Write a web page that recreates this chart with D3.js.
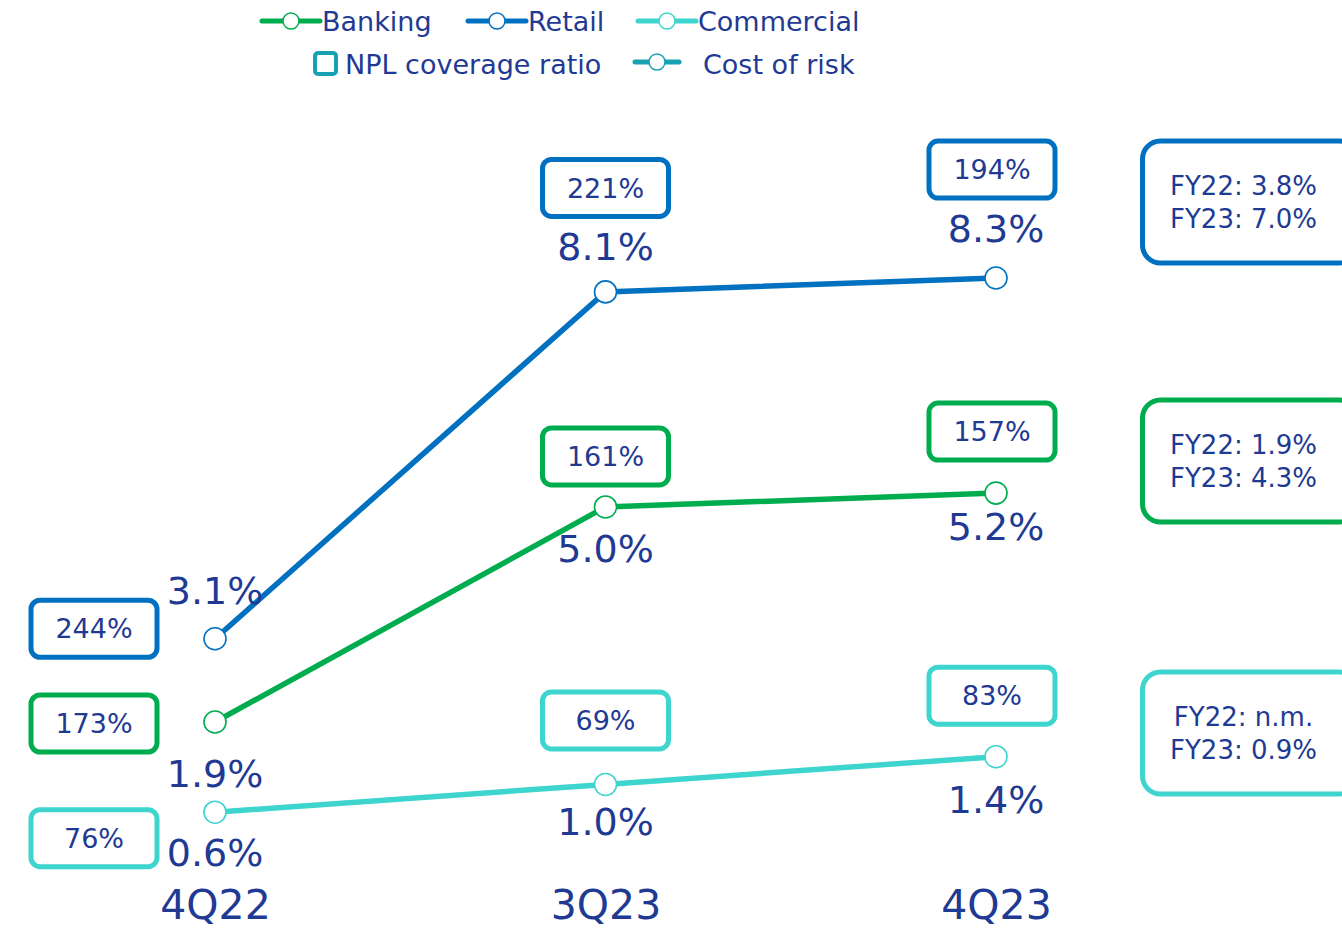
<!DOCTYPE html>
<html>
<head>
<meta charset="utf-8">
<script src="https://cdn.jsdelivr.net/npm/d3@7"></script>
<style>
  body { margin: 0; background: #fff; }
  svg { display: block; }
  text { font-family: "DejaVu Sans", sans-serif; fill: #1f3a93; }
</style>
</head>
<body>
<svg id="chart" width="1342" height="930"></svg>
<script>
// Quarters on the horizontal axis
const periods = ["4Q22", "3Q23", "4Q23"];

// Cost of risk (%) by segment
const bankingCoR = [1.9, 5.0, 5.2];
const retailCoR = [3.1, 8.1, 8.3];
const commercialCoR = [0.6, 1.0, 1.4];

// NPL coverage ratio (%) by segment
const bankingNPL = [173, 161, 157];
const retailNPL = [244, 221, 194];
const commercialNPL = [76, 69, 83];

// Full-year cost of risk summaries
const bankingFY = ["FY22: 1.9%", "FY23: 4.3%"];
const retailFY = ["FY22: 3.8%", "FY23: 7.0%"];
const commercialFY = ["FY22: n.m.", "FY23: 0.9%"];

const colors = {
  banking: "#00ad4e",
  retail: "#0070c0",
  commercial: "#3fd5cf",
  legendTeal: "#17a1b3"
};

// Annotation placement relative to each point (box centre / label baseline)
const layout = {
  retail:     { boxDx: [-121, 0, -4], boxDy: [-10, -104, -108.5], labelDy: [-35, -32, -36], fyY: 202 },
  banking:    { boxDx: [-121, 0, -4], boxDy: [1.5, -50.5, -61.5], labelDy: [65, 55, 47],    fyY: 461 },
  commercial: { boxDx: [-121, 0, -4], boxDy: [26, -64, -61],      labelDy: [54, 51, 56],    fyY: 733 }
};

const series = [
  { key: "retail", name: "Retail", cor: retailCoR, npl: retailNPL, fy: retailFY },
  { key: "banking", name: "Banking", cor: bankingCoR, npl: bankingNPL, fy: bankingFY },
  { key: "commercial", name: "Commercial", cor: commercialCoR, npl: commercialNPL, fy: commercialFY }
];

const svg = d3.select("#chart");

const x = d3.scalePoint().domain(periods).range([215, 996]);
const y = d3.scaleLinear().domain([0, 10]).range([853.8, 160.1]);

// Category axis (labels only)
const xAxis = svg.append("g")
  .attr("transform", "translate(0,919)")
  .call(d3.axisBottom(x).tickSize(0).tickPadding(0));
xAxis.select(".domain").remove();
xAxis.selectAll("text")
  .attr("dy", 0)
  .attr("y", 0)
  .style("font-size", "41px")
  .style("fill", "#1f3a93")
  .style("font-family", "'DejaVu Sans', sans-serif");

const line = d3.line().x((d, i) => x(periods[i])).y(d => y(d));

// Lines, then markers
series.forEach(s => {
  svg.append("path")
    .datum(s.cor)
    .attr("d", line)
    .attr("fill", "none")
    .attr("stroke", colors[s.key])
    .attr("stroke-width", 5.5);
});

series.forEach(s => {
  svg.append("g").selectAll("circle")
    .data(s.cor)
    .join("circle")
    .attr("cx", (d, i) => x(periods[i]))
    .attr("cy", d => y(d))
    .attr("r", 11)
    .attr("fill", "#fff")
    .attr("stroke", colors[s.key])
    .attr("stroke-width", 1.6);
});

// Cost-of-risk value labels
series.forEach(s => {
  const L = layout[s.key];
  svg.append("g").selectAll("text")
    .data(s.cor)
    .join("text")
    .attr("x", (d, i) => x(periods[i]))
    .attr("y", (d, i) => y(d) + L.labelDy[i])
    .attr("text-anchor", "middle")
    .style("font-size", "38px")
    .text(d => d3.format(".1f")(d) + "%");
});

// NPL coverage boxes
const boxW = 126, boxH = 57;
series.forEach(s => {
  const L = layout[s.key];
  const g = svg.append("g").selectAll("g")
    .data(s.npl)
    .join("g")
    .attr("transform", (d, i) => `translate(${x(periods[i]) + L.boxDx[i]},${y(s.cor[i]) + L.boxDy[i]})`);
  g.append("rect")
    .attr("x", -boxW / 2).attr("y", -boxH / 2)
    .attr("width", boxW).attr("height", boxH)
    .attr("rx", 9)
    .attr("fill", "#fff")
    .attr("stroke", colors[s.key])
    .attr("stroke-width", 5);
  g.append("text")
    .attr("text-anchor", "middle")
    .attr("dy", "0.36em")
    .style("font-size", "27px")
    .text(d => d + "%");
});

// Full-year summary boxes at right
series.forEach(s => {
  const L = layout[s.key];
  const g = svg.append("g").attr("transform", `translate(1142.5,${L.fyY})`);
  g.append("rect")
    .attr("x", 0).attr("y", -61)
    .attr("width", 215).attr("height", 122)
    .attr("rx", 18)
    .attr("fill", "#fff")
    .attr("stroke", colors[s.key])
    .attr("stroke-width", 5);
  g.selectAll("text")
    .data(s.fy)
    .join("text")
    .attr("x", 101)
    .attr("y", (d, i) => (i === 0 ? -16 : 17))
    .attr("dy", "0.36em")
    .attr("text-anchor", "middle")
    .style("font-size", "26px")
    .text(d => d);
});

// Legend
const legend = svg.append("g");
const legendRow1 = [
  { key: "banking", label: "Banking", x0: 262 },
  { key: "retail", label: "Retail", x0: 468 },
  { key: "commercial", label: "Commercial", x0: 638 }
];
legendRow1.forEach(item => {
  const g = legend.append("g").attr("transform", `translate(${item.x0},21)`);
  g.append("line").attr("x1", 0).attr("x2", 58).attr("y1", 0).attr("y2", 0)
    .attr("stroke", colors[item.key]).attr("stroke-width", 5).attr("stroke-linecap", "round");
  g.append("circle").attr("cx", 29).attr("cy", 0).attr("r", 8)
    .attr("fill", "#fff").attr("stroke", colors[item.key]).attr("stroke-width", 1.5);
  g.append("text").attr("x", 60).attr("dy", "0.36em")
    .style("font-size", "27px").text(item.label);
});

// NPL coverage ratio swatch
legend.append("rect")
  .attr("x", 315).attr("y", 53).attr("width", 21).attr("height", 21).attr("rx", 3)
  .attr("fill", "#fff").attr("stroke", colors.legendTeal).attr("stroke-width", 4);
legend.append("text").attr("x", 345).attr("y", 64).attr("dy", "0.36em")
  .style("font-size", "27px").text("NPL coverage ratio");

// Cost of risk swatch
const cor = legend.append("g").attr("transform", "translate(635,62)");
cor.append("line").attr("x1", 0).attr("x2", 44).attr("y1", 0).attr("y2", 0)
  .attr("stroke", colors.legendTeal).attr("stroke-width", 5).attr("stroke-linecap", "round");
cor.append("circle").attr("cx", 22).attr("cy", 0).attr("r", 8)
  .attr("fill", "#fff").attr("stroke", colors.legendTeal).attr("stroke-width", 1.5);
legend.append("text").attr("x", 703).attr("y", 64).attr("dy", "0.36em")
  .style("font-size", "27px").text("Cost of risk");
</script>
</body>
</html>
